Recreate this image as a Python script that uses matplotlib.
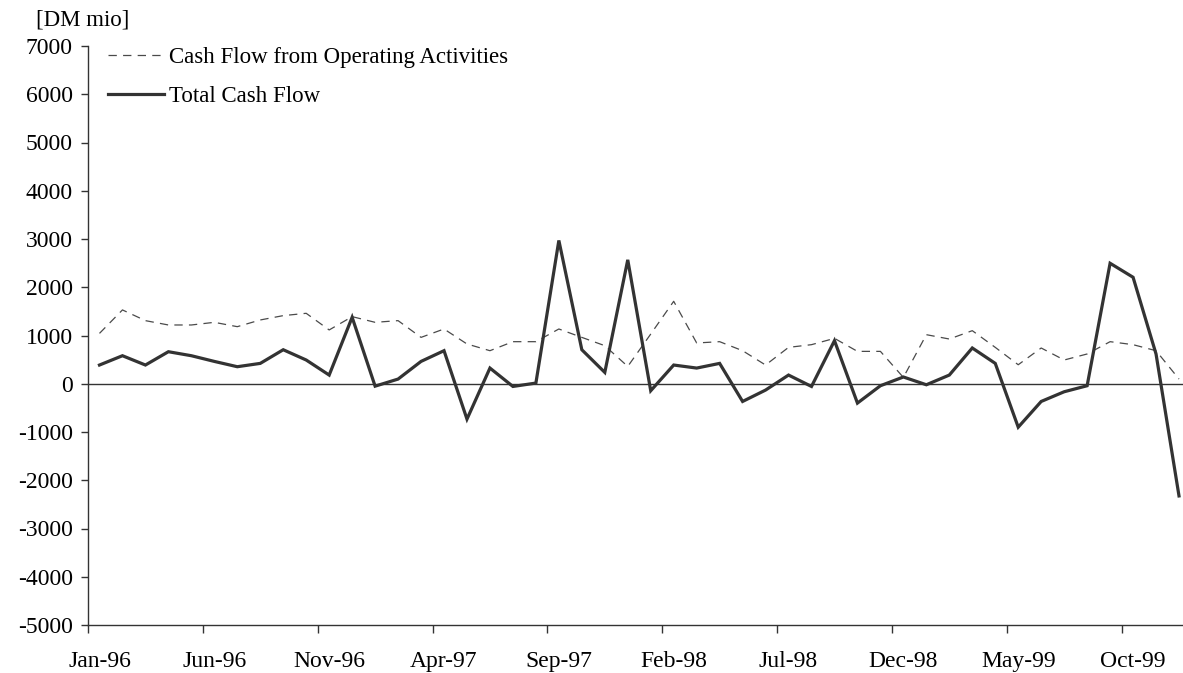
import matplotlib
matplotlib.use("Agg")
import matplotlib.pyplot as plt
import numpy as np

months = ["Jan-96","Feb-96","Mar-96","Apr-96","May-96","Jun-96","Jul-96","Aug-96","Sep-96","Oct-96","Nov-96","Dec-96",
          "Jan-97","Feb-97","Mar-97","Apr-97","May-97","Jun-97","Jul-97","Aug-97","Sep-97","Oct-97","Nov-97","Dec-97",
          "Jan-98","Feb-98","Mar-98","Apr-98","May-98","Jun-98","Jul-98","Aug-98","Sep-98","Oct-98","Nov-98","Dec-98",
          "Jan-99","Feb-99","Mar-99","Apr-99","May-99","Jun-99","Jul-99","Aug-99","Sep-99","Oct-99","Nov-99","Dec-99"]

operating_cf = [1044, 1530, 1308, 1218, 1218, 1273, 1183, 1322, 1412, 1460, 1115, 1391,
                1273, 1308, 961, 1135, 824, 685, 872, 872, 1135, 961, 789, 359,
                1030, 1709, 845, 872, 685, 388, 754, 810, 941, 671, 671, 131,
                1017, 927, 1100, 754, 394, 741, 492, 617, 872, 810, 685, 97]

total_cf = [388, 581, 388, 664, 581, 463, 353, 422, 705, 492, 180, 1377,
            -50, 97, 463, 685, -733, 325, -56, 14, 2970, 705, 235, 2568,
            -145, 388, 325, 422, -367, -131, 180, -56, 893, -401, -41, 140,
            -21, 180, 741, 422, -900, -367, -166, -41, 2497, 2207, 617, -2325]

y_ticks = list(range(-5000, 7001, 1000))
label_step = 5

plt.rcParams['font.family'] = ['Liberation Serif', 'DejaVu Serif']
plt.rcParams['lines.scale_dashes'] = False

W, H = 1183, 673
fig = plt.figure(figsize=(W/100, H/100), dpi=100)
ax = fig.add_axes([88/W, 1-625/H, (W-88)/W, (625-46)/H])

x = np.arange(len(months))
ax.plot(x, operating_cf, color='#4a4a4a', lw=0.9, dashes=(6, 4.5),
        label='Cash Flow from Operating Activities')
ax.plot(x, total_cf, color='#333333', lw=2.3, solid_joinstyle='miter',
        label='Total Cash Flow')
ax.axhline(0, color='#333333', lw=1.0, zorder=1)

ax.set_ylim(-5000, 7000)
ax.set_xlim((88-98)/23, (W-98)/23)
ax.set_yticks(y_ticks)
ax.set_yticklabels([str(v) for v in y_ticks])

lab_pos = x[::label_step]
ax.set_xticks(lab_pos)
ax.set_xticklabels([months[i] for i in lab_pos])
ax.set_xticks(np.arange(-0.5, len(months), label_step), minor=True)
ax.tick_params(axis='x', which='major', length=0, pad=19, labelsize=17)
ax.tick_params(axis='x', which='minor', length=6, width=1, color='#333333', direction='out')
ax.tick_params(axis='y', length=5, width=1, color='#333333', pad=6, labelsize=17)

for s in ['top', 'right']:
    ax.spines[s].set_visible(False)
for s in ['left', 'bottom']:
    ax.spines[s].set_color('#333333')
    ax.spines[s].set_linewidth(1.0)

leg = ax.legend(loc='upper left', bbox_to_anchor=(108/W, 1-47/H), bbox_transform=fig.transFigure,
                frameon=False, fontsize=16.5, handlelength=2.45, handletextpad=0.2,
                labelspacing=0.78, borderaxespad=0, borderpad=0)

fig.text(36/W, 1-20/H, '[DM mio]', ha='left', va='center', fontsize=16.5)

fig.savefig('out.png', dpi=100)
